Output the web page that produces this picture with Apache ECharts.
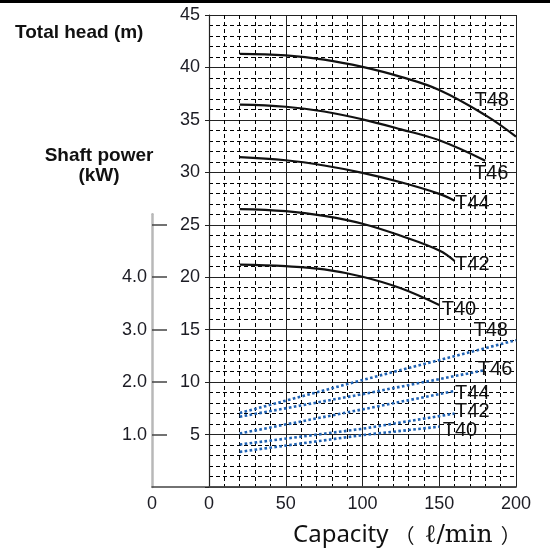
<!DOCTYPE html>
<html>
<head>
<meta charset="utf-8">
<script src="https://cdn.jsdelivr.net/npm/echarts@6/dist/echarts.min.js"></script>
<style>
  html, body { margin: 0; padding: 0; background: #fff; }
  #chart { width: 550px; height: 550px; }
</style>
</head>
<body>
<div id="chart"></div>
<script>
// head curves: capacity (l/min) and total head (m)
const headCapT40 = [20, 50, 75, 100, 125, 150];
const headT40 = [21.2, 21.05, 20.75, 20.05, 18.95, 17.35];
const headCapT42 = [20, 50, 75, 100, 125, 150, 160];
const headT42 = [26.5, 26.3, 25.85, 25.1, 23.95, 22.55, 21.55];
const headCapT44 = [20, 50, 75, 100, 125, 150, 160];
const headT44 = [31.45, 31.15, 30.65, 29.95, 29.05, 27.95, 27.3];
const headCapT46 = [20, 50, 75, 100, 125, 150, 180];
const headT46 = [36.45, 36.25, 35.8, 35.05, 34.1, 33.05, 31.1];
const headCapT48 = [20, 50, 75, 100, 125, 150, 180, 200];
const headT48 = [41.3, 41.15, 40.75, 40.05, 39.1, 37.85, 35.45, 33.4];

// shaft power curves: capacity (l/min) and power (kW)
const powerCapT40 = [20, 100, 150];
const powerT40 = [0.67, 0.99, 1.15];
const powerCapT42 = [20, 100, 160];
const powerT42 = [0.81, 1.11, 1.40];
const powerCapT44 = [20, 100, 160];
const powerT44 = [1.02, 1.48, 1.83];
const powerCapT46 = [20, 100, 180];
const powerT46 = [1.34, 1.77, 2.23];
const powerCapT48 = [20, 100, 200];
const powerT48 = [1.41, 2.04, 2.80];

const capTicks = [0, 200, 50];      // min, max, interval
const headTicks = [0, 45, 5];
const powerTickValues = [1, 2, 3, 4, 5];
const powerLabelValues = [1, 2, 3, 4];

// label placement next to each curve end (px)
const headLabelPos = { T40: [3, -5], T42: [1, -6], T44: [1, -7], T46: [-11, 3], T48: [-41, -46] };
const powerLabelPos = { T40: [4, -6], T42: [1, -12], T44: [1, -7], T46: [-7, -10], T48: [-42, -19] };

const W = 550, H = 550;
const gridLeft = 209, gridRight = 34, gridTop = 15, gridBottom = 63;
const powerAxisX = 152;
const mainW = W - gridLeft - gridRight;
const mainH = H - gridTop - gridBottom;
const kwPx = mainH / headTicks[1] * 5;   // 1 kW = 5 m on the head scale
const powerMax = 5.2;
const powerTop = H - gridBottom - powerMax * kwPx;
const powerXMin = -(gridLeft - powerAxisX) / mainW * capTicks[1];

const font = 'Liberation Sans';
const txt = '#1c1c24';

function pairs(xs, ys) {
  return xs.map((x, i) => [x, ys[i]]);
}

function withLabel(data, name, pos) {
  const last = data.length - 1;
  return data.map((d, i) => i < last ? d : {
    value: d,
    label: {
      show: true, position: pos, formatter: name,
      fontFamily: font, fontSize: 20, color: '#111'
    }
  });
}

const headSeries = [
  ['T40', headCapT40, headT40],
  ['T42', headCapT42, headT42],
  ['T44', headCapT44, headT44],
  ['T46', headCapT46, headT46],
  ['T48', headCapT48, headT48]
].map(([name, xs, ys]) => ({
  name: name + ' head',
  type: 'line',
  xAxisIndex: 0, yAxisIndex: 0,
  smooth: 0.4,
  symbol: 'circle', symbolSize: 1, showSymbol: true,
  itemStyle: { color: 'transparent' },
  lineStyle: { color: '#111', width: 2.2 },
  data: withLabel(pairs(xs, ys), name, headLabelPos[name]),
  z: 5
}));

const powerSeries = [
  ['T40', powerCapT40, powerT40],
  ['T42', powerCapT42, powerT42],
  ['T44', powerCapT44, powerT44],
  ['T46', powerCapT46, powerT46],
  ['T48', powerCapT48, powerT48]
].map(([name, xs, ys]) => ({
  name: name + ' power',
  type: 'line',
  xAxisIndex: 1, yAxisIndex: 1,
  symbol: 'circle', symbolSize: 1, showSymbol: true,
  itemStyle: { color: 'transparent' },
  lineStyle: { color: '#1f62b3', width: 2.6, type: [2.6, 2.4] },
  data: withLabel(pairs(xs, ys), name, powerLabelPos[name]),
  z: 5
}));

const chart = echarts.init(document.getElementById('chart'));
chart.setOption({
  animation: false,
  backgroundColor: '#fff',
  grid: [
    { left: gridLeft, right: gridRight, top: gridTop, bottom: gridBottom },
    { left: powerAxisX, right: gridRight, top: powerTop, bottom: gridBottom }
  ],
  xAxis: [
    {
      gridIndex: 0, type: 'value',
      min: capTicks[0], max: capTicks[1], interval: capTicks[2],
      axisLine: { show: true, lineStyle: { color: '#444', width: 1.5 } },
      axisTick: { show: false },
      axisLabel: { fontFamily: font, fontSize: 18, color: txt, margin: 8 },
      splitLine: { show: true, lineStyle: { color: '#222', width: 1 } },
      minorTick: { show: false, splitNumber: 5 },
      minorSplitLine: { show: true, lineStyle: { color: '#000', width: 1, type: [4, 3] } }
    },
    {
      gridIndex: 1, type: 'value',
      min: powerXMin, max: capTicks[1],
      axisLine: { show: true, onZero: false, lineStyle: { color: '#444', width: 1.5 } },
      axisTick: { show: false },
      axisLabel: { show: false },
      splitLine: { show: false }
    }
  ],
  yAxis: [
    {
      gridIndex: 0, type: 'value',
      min: headTicks[0], max: headTicks[1], interval: headTicks[2],
      axisLine: { show: true, lineStyle: { color: '#222', width: 1.2 } },
      axisTick: { show: true, length: 4, lineStyle: { color: '#222' } },
      axisLabel: {
        fontFamily: font, fontSize: 18, color: txt, margin: 9,
        formatter: v => v === 0 ? '' : String(v)
      },
      splitLine: { show: true, lineStyle: { color: '#222', width: 1 } },
      minorTick: { show: false, splitNumber: 5 },
      minorSplitLine: { show: true, lineStyle: { color: '#000', width: 1, type: [4, 3] } }
    },
    {
      gridIndex: 1, type: 'value',
      min: 0, max: powerMax,
      axisLine: { show: true, onZero: false, lineStyle: { color: '#b8b8b8', width: 2.5 } },
      axisTick: {
        show: true, inside: true, length: 15,
        lineStyle: { color: '#444', width: 1.5 },
        customValues: powerTickValues
      },
      axisLabel: {
        fontFamily: font, fontSize: 18, color: txt, margin: 5,
        customValues: powerLabelValues,
        formatter: v => v.toFixed(1)
      },
      splitLine: { show: false }
    }
  ],
  graphic: [
    { type: 'rect', shape: { x: 0, y: 0, width: W, height: 3 }, style: { fill: '#000' } },
    {
      type: 'text', x: 15, y: 33,
      style: { text: 'Total head (m)', font: 'bold 19px "Liberation Sans"', fill: '#111', verticalAlign: 'middle' }
    },
    {
      type: 'text', x: 99, y: 146,
      style: {
        text: 'Shaft power\n(kW)', font: 'bold 19px "Liberation Sans"', fill: '#111',
        align: 'center', verticalAlign: 'top', lineHeight: 20
      }
    },
    {
      type: 'text', x: powerAxisX, y: H - gridBottom + 17,
      style: { text: '0', font: '18px "Liberation Sans"', fill: txt, align: 'center', verticalAlign: 'middle' }
    },
    {
      type: 'text', x: 293, y: 535,
      style: {
        text: '{a|Capacity}{p|（}{b|ℓ/min}{p|）}',
        verticalAlign: 'middle',
        rich: {
          a: { fontFamily: 'Noto Sans', fontSize: 24, fill: '#111', padding: [0, 6, 0, 0] },
          p: { fontFamily: 'Noto Sans CJK JP', fontSize: 20, fill: '#111' },
          b: { fontFamily: 'DejaVu Serif', fontSize: 25, fill: '#111', padding: [0, 8, 0, 10] }
        }
      }
    }
  ],
  series: headSeries.concat(powerSeries)
});
</script>
</body>
</html>
